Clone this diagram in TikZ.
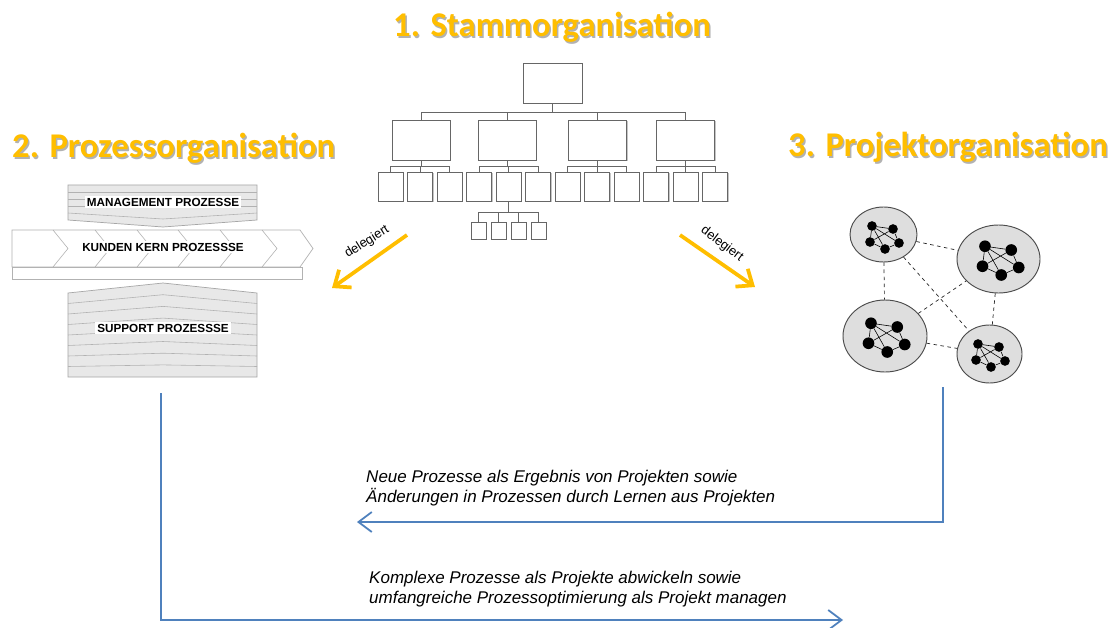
\documentclass[tikz,border=0pt]{standalone}
\usepackage{fontspec}
\setmainfont{Liberation Sans}
\newfontfamily\titlefont{Carlito}
\usetikzlibrary{arrows.meta,positioning,shadows,shapes.geometric,calc}
\definecolor{titleyellow}{RGB}{255,190,0}
\definecolor{linkblue}{RGB}{79,129,189}
\definecolor{procgray}{RGB}{232,232,232}
\tikzset{
    title/.style={font=\titlefont\bfseries\fontsize{29.6}{34}\selectfont, text=titleyellow, anchor=base west, inner sep=0pt},
    title shadow/.style={title, text=black, opacity=.3},
    orgbox/.style={rectangle, draw=black!60, fill=white, line width=.6pt, inner sep=0pt,
        drop shadow={shadow xshift=1.1pt, shadow yshift=-1.1pt, fill=black!45}},
    boss size/.style={minimum width=17.7mm, minimum height=12mm},
    dept size/.style={minimum width=17.4mm, minimum height=12mm},
    unit size/.style={minimum width=7.5mm, minimum height=8.7mm},
    sub size/.style={minimum width=4.5mm, minimum height=5.1mm},
    orgline/.style={draw=black!60, line width=.6pt},
    proc fill/.style={fill=procgray, draw=black!35, line width=.6pt},
    proc stripe/.style={draw=black!30, line width=.5pt},
    proc label/.style={font=\bfseries\fontsize{10}{12}\selectfont, fill=white, inner sep=1.5pt},
    team/.style={ellipse, draw=black!70, fill=black!13, line width=.8pt, inner sep=0pt},
    dot/.style={circle, fill=black, inner sep=0pt, minimum size=2.9mm},
    cluster edge/.style={draw=black, line width=.5pt},
    teamlink/.style={dashed, draw=black!85, line width=.6pt},
    deleg/.style={-{Straight Barb[length=4mm,width=6.5mm]}, line width=3.2pt, titleyellow},
    deleg text/.style={font=\fontsize{11}{13}\selectfont, inner sep=0pt},
    flow/.style={-{Straight Barb[length=4mm,width=6mm]}, line width=1.5pt, linkblue},
    flow text/.style={font=\itshape\fontsize{14.5}{17}\selectfont, align=left, anchor=west, inner sep=0pt},
    pics/cluster/.style={code={
        \node[dot] (-a) at (-12,-11) {};
        \node[dot] (-b) at (9,-8) {};
        \node[dot] (-c) at (-14,5) {};
        \node[dot] (-d) at (1,12) {};
        \node[dot] (-e) at (15,6) {};
        \draw[cluster edge] (-a) -- (-b) -- (-e) -- (-d) -- (-c) -- (-a) -- (-e)
            (-b) -- (-c) (-a) -- (-d);
    }},
}

\begin{document}
\begin{tikzpicture}[x=0.3mm, y=-0.3mm]
    \fill[white] (0,0) rectangle (1115,628);
    \useasboundingbox (0,0) rectangle (1115,628);

    % titles
    \node[title shadow] (stammshadow) at (394.5,38.5) {1. Stammorganisation};
    \node[title] (stamm) at (393,37) {1. Stammorganisation};
    \node[title shadow] (prozshadow) at (13.5,159.5) {2. Prozessorganisation};
    \node[title] (proz) at (12,158) {2. Prozessorganisation};
    \node[title shadow] (projshadow) at (789.5,158.5) {3. Projektorganisation};
    \node[title] (proj) at (788,157) {3. Projektorganisation};

    % line organisation
    \node[orgbox, boss size] (chief) at (552.5,83) {};
    \foreach \i/\x in {1/421,2/507,3/597.5,4/685.5}
        \node[orgbox, dept size] (dept\i) at (\x,140) {};
    \foreach \i in {1,...,4}
        \draw[orgline] (chief.south) -- ++(0,9) -| (dept\i.north);
    \foreach \i in {1,...,4}
        \foreach \j in {1,2,3} {
            \pgfmathsetmacro\xpos{390.5+29.5*(3*(\i-1)+\j-1)}
            \node[orgbox, unit size] (unit\i\j) at (\xpos,186.5) {};
            \draw[orgline] (dept\i.south) -- ++(0,6) -| (unit\i\j.north);
        }
    \foreach \k in {1,...,4} {
        \node[orgbox, sub size] (sub\k) at ({458.5+20*\k},230.5) {};
        \draw[orgline] (unit22.south) -- ++(0,11) -| (sub\k.north);
    }

    % process organisation
    \draw[proc fill] (68,185) -- (257,185) -- (257,220) -- (163,227) -- (68,220) -- cycle;
    \foreach \y in {192,199,206}
        \draw[proc stripe] (68,\y) -- (257,\y);
    \draw[proc stripe] (68,213) -- (163,219) -- (257,213);
    \node[proc label] (mgmt) at (163,202) {MANAGEMENT PROZESSE};

    \draw[fill=white, draw=black!30, line width=.6pt]
        (12,230) -- (300,230) -- (313,248.5) -- (300,267) -- (12,267) -- cycle;
    \foreach \x in {53,95,137,178,220,262}
        \draw[proc stripe] (\x,230) -- ++(15,18.5) -- ++(-15,18.5);
    \draw[fill=white, draw=black!30, line width=.6pt] (12,267) rectangle (302,279);
    \node[proc label] (core) at (163,247) {KUNDEN KERN PROZESSSE};

    \draw[proc fill] (68,293) -- (163,283) -- (257,293) -- (257,377) -- (68,377) -- cycle;
    \foreach \k in {1,...,7}
        \draw[proc stripe] (68,{293+\k*10.5}) -- (163,{283+\k*10.5+\k*1.2}) -- (257,{293+\k*10.5});
    \node[proc label] (support) at (163,328) {SUPPORT PROZESSSE};

    % project organisation
    \node[team, minimum width=20.1mm, minimum height=16.5mm] (team1) at (883.5,234.5) {};
    \node[team, minimum width=24.9mm, minimum height=20.4mm] (team2) at (998.5,259) {};
    \node[team, minimum width=25.2mm, minimum height=21.6mm] (team3) at (885,336) {};
    \node[team, minimum width=19.5mm, minimum height=17.4mm] (team4) at (989.5,354) {};
    \draw[teamlink] (team1) -- (team2) (team1) -- (team3) (team1) -- (team4)
        (team3) -- (team2) (team2) -- (team4) (team3) -- (team4);
    \pic (net1) at (884,237) {cluster};
    \pic[scale=1.25, dot/.append style={minimum size=3.5mm}] (net2) at (1000,260) {cluster};
    \pic[scale=1.25, dot/.append style={minimum size=3.5mm}] (net3) at (886,337) {cluster};
    \pic (net4) at (990,355) {cluster};

    % delegation
    \coordinate (delegLa) at (407,235);
    \coordinate (delegLb) at (332,288);
    \draw[deleg] (delegLa) -- (delegLb);
    \node[deleg text, rotate=32] (delegLtext) at (367,242) {delegiert};
    \coordinate (delegRa) at (680,235);
    \coordinate (delegRb) at (755,287);
    \draw[deleg] (delegRa) -- (delegRb);
    \node[deleg text, rotate=-37] (delegRtext) at (722,244) {delegiert};

    % feedback between processes and projects
    \coordinate (projout) at (943,387);
    \coordinate (procin) at (357,522);
    \draw[flow] (projout) |- (procin);
    \node[flow text] (learn) at (366,488)
        {Neue Prozesse als Ergebnis von Projekten sowie\\
         Änderungen in Prozessen durch Lernen aus Projekten};
    \coordinate (procout) at (161,393);
    \coordinate (projin) at (843,620);
    \draw[flow] (procout) |- (projin);
    \node[flow text] (handle) at (369,589)
        {Komplexe Prozesse als Projekte abwickeln sowie\\
         umfangreiche Prozessoptimierung als Projekt managen};
\end{tikzpicture}
\end{document}
